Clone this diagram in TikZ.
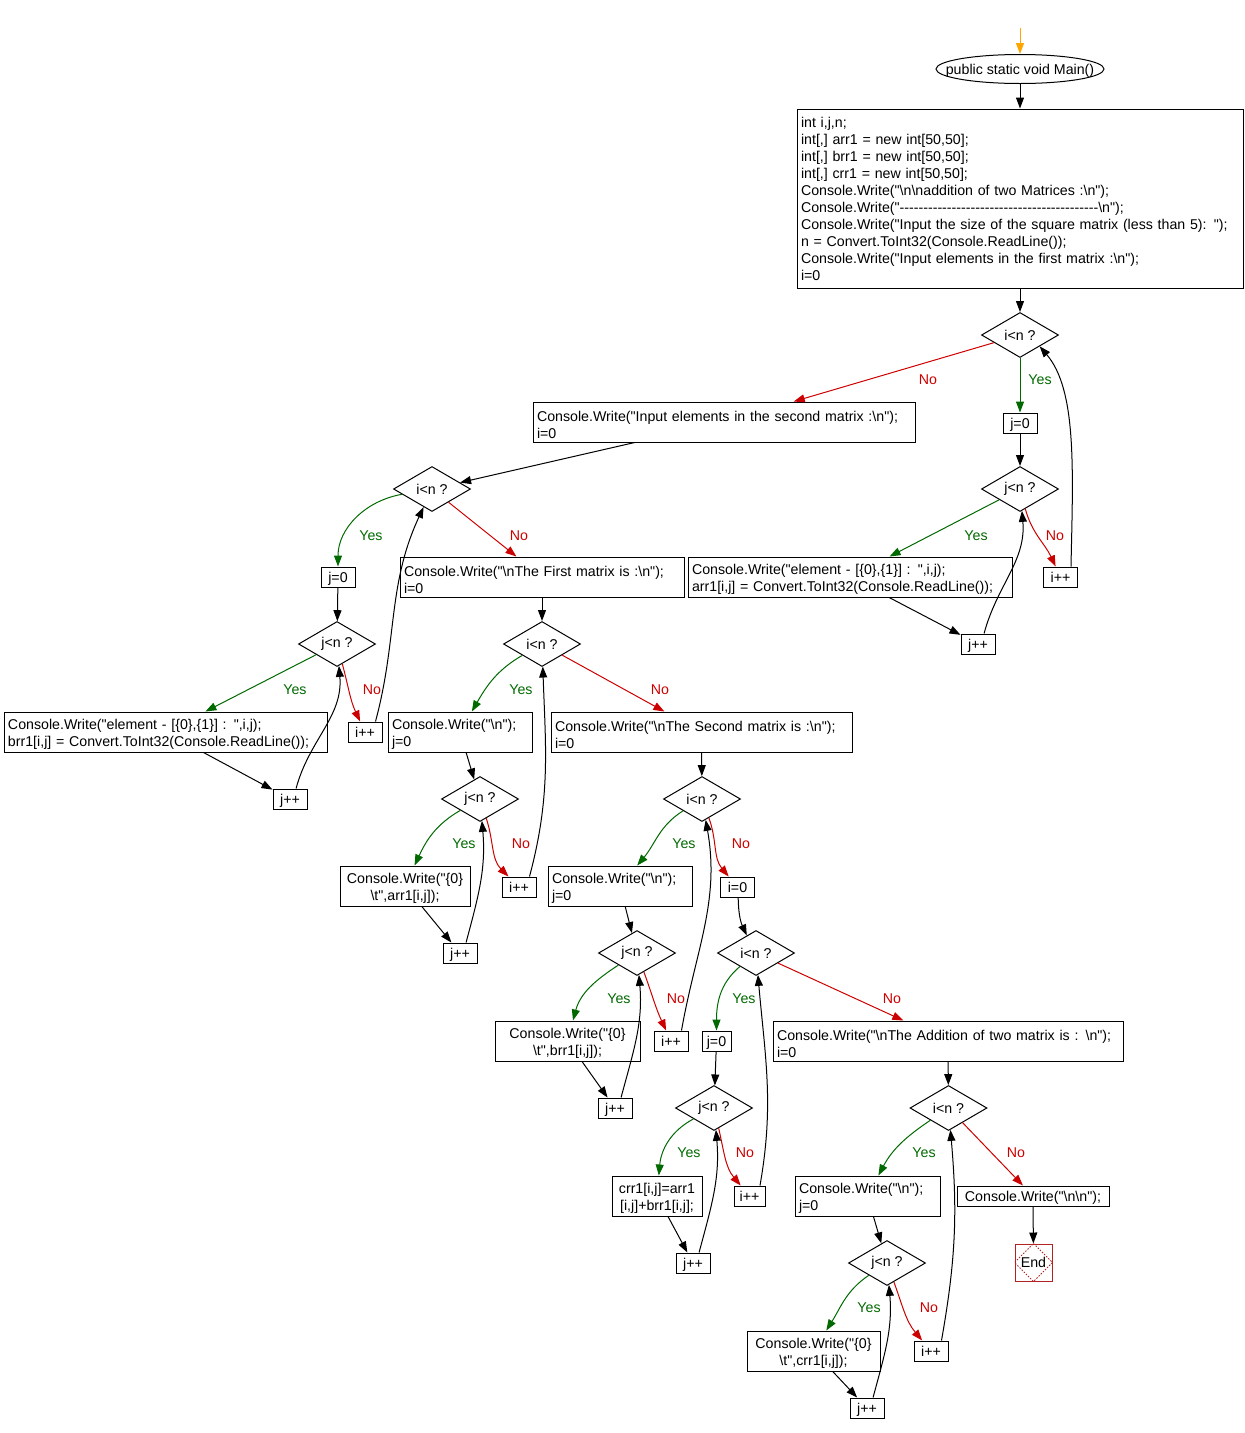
\documentclass[tikz,border=0pt]{standalone}
\usepackage{fontspec}
\setmainfont{Liberation Sans}[Ligatures=TeXOff]
\usepackage{tikz}
\usetikzlibrary{arrows.meta,shapes.geometric}
\definecolor{yesgreen}{RGB}{0,105,0}
\definecolor{nored}{RGB}{205,0,0}
\definecolor{startorange}{RGB}{255,165,0}
\definecolor{endred}{RGB}{178,34,34}
\newcommand{\bsl}{\textbackslash}
\newcommand{\flowfont}{\fontsize{14.2}{17}\selectfont}
\tikzset{
  codebox/.style={rectangle,draw,line width=1pt,font=\flowfont,align=left,inner xsep=4pt,inner ysep=2pt,minimum height=40pt},
  stmtbox/.style={codebox,execute at begin node={\rule{0pt}{15.5pt}}},
  prbox/.style={stmtbox,align=center},
  smallbox/.style={rectangle,draw,line width=1pt,font=\flowfont,minimum width=34pt,minimum height=20pt,inner sep=0pt,text height=10pt,text depth=0pt},
  decnode/.style={diamond,draw,line width=1pt,font=\flowfont,minimum width=77pt,minimum height=45pt,inner sep=0pt},
  startnode/.style={ellipse,draw,line width=1pt,font=\flowfont,minimum width=168pt,minimum height=29pt,inner sep=0pt,text depth=0pt},
  endnode/.style={rectangle,draw=endred,line width=1pt,font=\flowfont,minimum size=37pt,inner sep=0pt},
  enddiam/.style={endred,line width=0.8pt,dash pattern=on 1.5pt off 1.5pt},
  flow/.style={-{Triangle[length=11pt,width=8pt]},line width=1pt},
  startedge/.style={flow,draw=startorange},
  yesedge/.style={flow,draw=yesgreen},
  noedge/.style={flow,draw=nored},
  yestext/.style={font=\flowfont,text=yesgreen,inner sep=0pt},
  notext/.style={font=\flowfont,text=nored,inner sep=0pt},
}

\begin{document}
\begin{tikzpicture}[x=1pt,y=1pt]
  \useasboundingbox (0,0) rectangle (1245,-1433);
  % entry and declarations
  \coordinate (entry) at (1020,-28);
  \node[startnode] (main) at (1020,-69) {\makebox[0pt]{public static void Main()}};
  \node[codebox,text width=438pt,minimum height=179pt] (init) at (1020,-198.5) {int i,j,n;\\
    int[,] arr1 = new int[50,50];\\
    int[,] brr1 = new int[50,50];\\
    int[,] crr1 = new int[50,50];\\
    Console.Write("\bsl n\bsl naddition of two Matrices :\bsl n");\\
    Console.Write("------------------------------------------\bsl n");\\
    Console.Write("Input the size of the square matrix (less than 5): ");\\
    n = Convert.ToInt32(Console.ReadLine());\\
    Console.Write("Input elements in the first matrix :\bsl n");\\
    i=0};
  % first matrix input
  \node[decnode] (d1) at (1020,-335) {i<n ?};
  \node[stmtbox,text width=374pt] (box2) at (724,-422) {Console.Write("Input elements in the second matrix :\bsl n");\\ i=0};
  \node[smallbox] (j0a) at (1020,-423) {j=0};
  \node[decnode] (d2) at (1020,-489) {j<n ?};
  \node[stmtbox,text width=316pt] (readA) at (850,-577) {Console.Write("element - [\{0\},\{1\}] : ",i,j);\\ arr1[i,j] = Convert.ToInt32(Console.ReadLine());};
  \node[smallbox] (ippA) at (1060.5,-577) {i++};
  \node[smallbox] (jppA) at (978,-644) {j++};
  % second matrix input
  \node[decnode] (d3) at (432,-489) {i<n ?};
  \node[smallbox] (j0b) at (338,-577) {j=0};
  \node[stmtbox,text width=276pt] (first) at (542,-577) {Console.Write("\bsl nThe First matrix is :\bsl n");\\ i=0};
  \node[decnode] (d4) at (337,-644) {j<n ?};
  \node[stmtbox,text width=315pt] (readB) at (165.5,-732) {Console.Write("element - [\{0\},\{1\}] : ",i,j);\\ brr1[i,j] = Convert.ToInt32(Console.ReadLine());};
  \node[smallbox] (ippB) at (365,-732) {i++};
  \node[smallbox] (jppB) at (290,-799) {j++};
  % print first matrix
  \node[decnode] (d5) at (542,-644) {i<n ?};
  \node[stmtbox,text width=136pt] (nlA) at (460,-732) {Console.Write("\bsl n");\\ j=0};
  \node[stmtbox,text width=293pt] (second) at (701.5,-732) {Console.Write("\bsl nThe Second matrix is :\bsl n");\\ i=0};
  \node[decnode] (d6) at (480,-799) {j<n ?};
  \node[prbox,text width=122pt] (prA) at (405,-886) {Console.Write("\{0\}\\ \bsl t",arr1[i,j]);};
  \node[smallbox] (ippC) at (519,-887) {i++};
  \node[smallbox] (jppC) at (460,-953) {j++};
  % print second matrix
  \node[decnode] (d7) at (702,-799) {i<n ?};
  \node[stmtbox,text width=136pt] (nlB) at (620,-886) {Console.Write("\bsl n");\\ j=0};
  \node[smallbox] (i0) at (737.5,-887) {i=0};
  \node[decnode] (d8) at (637,-953) {j<n ?};
  \node[prbox,text width=137pt] (prB) at (567.5,-1041) {Console.Write("\{0\}\\ \bsl t",brr1[i,j]);};
  \node[smallbox] (ippD) at (671,-1041) {i++};
  \node[smallbox] (jppD) at (615,-1108) {j++};
  % addition
  \node[decnode] (d9) at (756,-953) {i<n ?};
  \node[smallbox,minimum width=29pt] (j0c) at (716.5,-1041) {j=0};
  \node[stmtbox,text width=342pt] (addbox) at (948,-1041) {Console.Write("\bsl nThe Addition of two matrix is : \bsl n");\\ i=0};
  \node[decnode] (d10) at (714,-1108) {j<n ?};
  \node[prbox,text width=82pt] (sumbox) at (657,-1196) {crr1[i,j]=arr1\\{}[i,j]+brr1[i,j];};
  \node[smallbox,minimum width=31pt] (ippE) at (749.5,-1196) {i++};
  \node[smallbox] (jppE) at (693,-1263) {j++};
  % print sum
  \node[decnode] (d11) at (948.5,-1108) {i<n ?};
  \node[stmtbox,text width=137pt] (nlC) at (867.5,-1196) {Console.Write("\bsl n");\\ j=0};
  \node[smallbox,minimum width=152pt] (nlnl) at (1033,-1196) {Console.Write("\bsl n\bsl n");};
  \node[endnode] (end) at (1033.5,-1262.5) {End};
  \draw[enddiam] (end.north) -- (end.east) -- (end.south) -- (end.west) -- cycle;
  \node[decnode] (d12) at (887,-1263) {j<n ?};
  \node[prbox,text width=125pt] (prC) at (813.5,-1351) {Console.Write("\{0\}\\ \bsl t",crr1[i,j]);};
  \node[smallbox] (ippF) at (931,-1351) {i++};
  \node[smallbox] (jppF) at (867,-1408) {j++};
  % connectors
  \draw[startedge] (entry) -- (main);
  \foreach \a/\b in {main/init,init/d1,j0a/d2,box2/d3,j0b/d4,first/d5,nlA/d6,second/d7,nlB/d8,
      j0c/d10,addbox/d11,nlC/d12,nlnl/end,readA/jppA,readB/jppB,prA/jppC,prB/jppD,sumbox/jppE,prC/jppF}
    \draw[flow] (\a) -- (\b);
  \foreach \a/\b in {d1/j0a,d2/readA,d4/readB}
    \draw[yesedge] (\a) -- (\b);
  \foreach \a/\b in {d1/box2,d3/first,d5/second,d9/addbox,d11/nlnl}
    \draw[noedge] (\a) -- (\b);
  \foreach \a/\b/\o/\i in {d3/j0b/190/90,d5/nlA/-150/60,d6/prA/-150/65,d7/nlB/-148/50,d8/prB/-147/75,
      d9/j0c/-140/90,d10/sumbox/-152/85,d11/nlC/-146/62,d12/prC/-146/58}
    \draw[yesedge] (\a) to[out=\o,in=\i] (\b);
  \foreach \a/\b/\o/\i in {d2/ippA/-75/115,d4/ippB/-75/115,d6/ippC/-72/135,d7/i0/-70/130,
      d8/ippD/-70/115,d10/ippE/-77/130,d12/ippF/-70/130}
    \draw[noedge] (\a) to[out=\o,in=\i] (\b);
  \foreach \a/\an/\b/\o/\i in {jppA/60/d2/75/-85,jppB/60/d4/75/-85,ippB/45/d3/75/-115,jppC/60/d6/75/-85,
      ippC/45/d5/75/-88,jppD/60/d8/75/-85,ippD/45/d7/80/-80,jppE/60/d10/75/-85,ippE/45/d9/80/-85,
      jppF/60/d12/75/-85,ippF/45/d11/80/-85}
    \draw[flow] (\a.\an) to[out=\o,in=\i] (\b);
  \draw[flow] (ippA.45) .. controls (1073,-470) and (1077,-390) .. (d1.-30);
  \draw[flow] (i0) to[bend right=12] (d9);
  % branch labels
  \foreach \x/\y [count=\k] in {1040/380,976/536,371/536,295/690,521/690,464/844,684/844,619/999,
      744/999,689/1153,924/1153,869/1308}
    \node[yestext] (yes\k) at (\x,-\y) {Yes};
  \foreach \x/\y [count=\k] in {928/380,1055/536,519/536,372/690,660/690,521/844,741/844,676/999,
      892/999,745/1153,1016/1153,929/1308}
    \node[notext] (no\k) at (\x,-\y) {No};
\end{tikzpicture}
\end{document}
